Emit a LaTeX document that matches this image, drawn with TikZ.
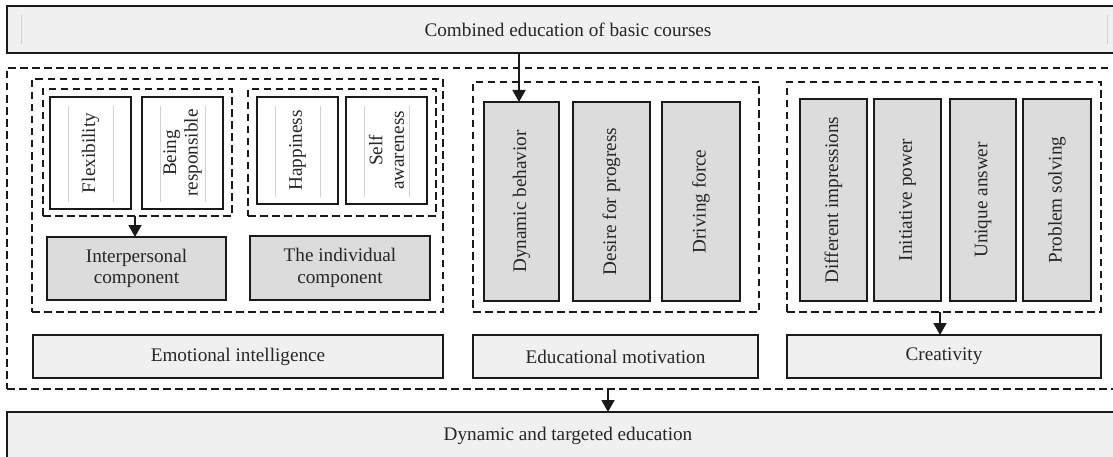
\documentclass[tikz,border=0pt]{standalone}
\usepackage{fontspec}
\setmainfont{Liberation Serif}
\usetikzlibrary{arrows.meta}
\definecolor{boxgray}{HTML}{DCDCDD}
\definecolor{lightfill}{HTML}{F0F0F0}
\definecolor{edge}{HTML}{1A1A1A}

\tikzset{
  base/.style={rectangle, inner sep=0pt, outer sep=0pt, draw=edge, line width=1.6pt,
    font=\fontsize{19.2}{21.5}\selectfont, text=black!85, align=center},
  banner/.style={base, fill=lightfill},
  labelbox/.style={base, fill=lightfill},
  itembox/.style={base, fill=boxgray},
  leafbox/.style={base, fill=white},
  group/.style={rectangle, draw=edge, line width=1.4pt, dash pattern=on 7.5pt off 4.5pt,
    inner sep=0pt, outer sep=0pt},
  vtext/.style={rotate=90, inner sep=0pt, font=\fontsize{19.2}{21.5}\selectfont,
    text=black!85, align=center},
  arr/.style={line width=1.8pt, draw=edge, -{Triangle[width=13pt,length=12pt]}},
  faint/.style={draw=black!18, line width=0.7pt}
}

\begin{document}
\begin{tikzpicture}[x=1pt,y=-1pt]
\clip (0,0) rectangle (1113,457);
\fill[white] (0,0) rectangle (1113,457);

% top and bottom banners
\node[banner, minimum width=1122, minimum height=47] (top) at (568,29.5)
  {Combined education of basic courses};
\draw[faint] ([xshift=14pt,yshift=-9pt]top.north west) -- ([xshift=14pt,yshift=9pt]top.south west);
\draw[faint] (1107,15) -- (1107,44);

\node[group, minimum width=1122, minimum height=321] (outer) at (568,228.5) {};

\node[banner, minimum width=1122, minimum height=47] (bot) at (568,435.5)
  {Dynamic and targeted education};

% emotional intelligence
\node[group, minimum width=411, minimum height=233] (eig) at (237.5,195.5) {};
\node[group, minimum width=189, minimum height=127] (ipg) at (137.5,152.5) {};
\node[group, minimum width=188, minimum height=127] (ing) at (342,152.5) {};

\node[leafbox, minimum width=81, minimum height=112] (flex) at (90.5,153) {};
\node[leafbox, minimum width=81, minimum height=112] (resp) at (182.5,153) {};
\node[leafbox, minimum width=81, minimum height=107] (happ) at (297.5,150.5) {};
\node[leafbox, minimum width=81, minimum height=107] (self) at (386.5,150.5) {};
\foreach \b in {flex,resp,happ,self}{
  \draw[faint] ([xshift=18pt,yshift=-9pt]\b.north west) -- ([xshift=18pt,yshift=7pt]\b.south west);
  \draw[faint] ([xshift=-18pt,yshift=-9pt]\b.north east) -- ([xshift=-18pt,yshift=7pt]\b.south east);
}
\node[vtext] at (flex.center) {Flexibility};
\node[vtext] at (resp.center) {Being\\responsible};
\node[vtext] at (happ.center) {Happiness};
\node[vtext] at (self.center) {Self\\awareness};

\node[itembox, minimum width=179, minimum height=63] (ipc) at (136.5,268.5)
  {Interpersonal\\component};
\node[itembox, minimum width=180, minimum height=64] (inc) at (340,268)
  {The individual\\component};

\node[labelbox, minimum width=410, minimum height=43] (eil) at (238,356.5)
  {Emotional intelligence};

% educational motivation
\node[group, minimum width=286, minimum height=230] (emg) at (616,197) {};
\node[itembox, minimum width=75, minimum height=199,
  label={[vtext]center:Dynamic behavior}] (dyn) at (521.5,201.5) {};
\node[itembox, minimum width=77, minimum height=199,
  label={[vtext]center:Desire for progress}] (des) at (611.5,201.5) {};
\node[itembox, minimum width=78, minimum height=199,
  label={[vtext]center:Driving force}] (drv) at (701,201.5) {};
\node[labelbox, minimum width=285, minimum height=43] (eml) at (615.5,356.5)
  {Educational motivation};

% creativity
\node[group, minimum width=314, minimum height=230] (crg) at (944,197) {};
\node[itembox, minimum width=67, minimum height=202,
  label={[vtext]center:Different impressions}] (dif) at (833.5,200) {};
\node[itembox, minimum width=67, minimum height=202,
  label={[vtext]center:Initiative power}] (ini) at (907.5,200) {};
\node[itembox, minimum width=66, minimum height=202,
  label={[vtext]center:Unique answer}] (uni) at (983,200) {};
\node[itembox, minimum width=68, minimum height=202,
  label={[vtext]center:Problem solving}] (pro) at (1057,200) {};
\node[labelbox, minimum width=314, minimum height=43] (crl) at (944,356.5)
  {Creativity};

% connectors
\coordinate (feed) at (519,0);
\coordinate (drop) at (608,0);
\coordinate (crdrop) at (940,0);
\draw[arr] (top.south -| feed) -- (dyn.north -| feed);
\draw[arr] (ipg.south -| 135,0) -- (ipc.north -| 135,0);
\draw[arr] (crg.south -| crdrop) -- (crl.north -| crdrop);
\draw[arr] (outer.south -| drop) -- (bot.north -| drop);
\end{tikzpicture}
\end{document}
